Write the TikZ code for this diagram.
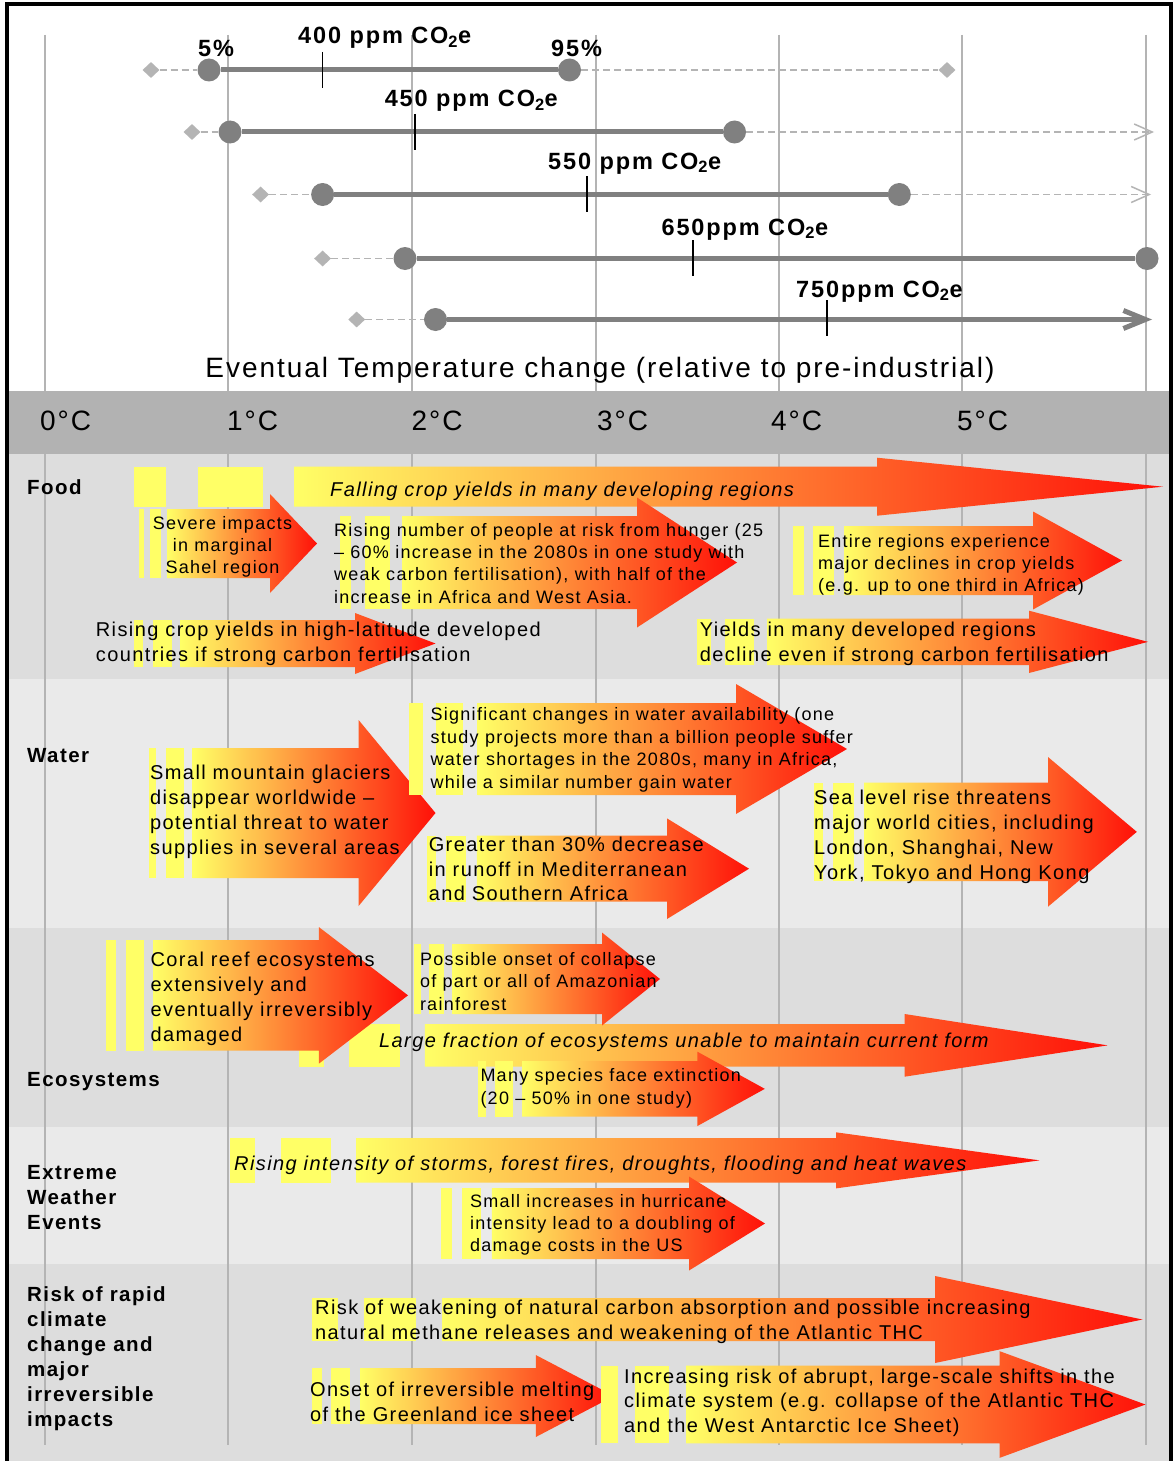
\documentclass[tikz,border=0pt]{standalone}
\usepackage{fontspec}
\setmainfont[LetterSpace=7]{Liberation Sans}
\usetikzlibrary{shapes.geometric,arrows.meta}
\definecolor{grid-grey}{HTML}{B4B4B4}
\definecolor{band-grey}{HTML}{B2B2B2}
\definecolor{row-dark}{HTML}{DDDDDD}
\definecolor{row-light}{HTML}{EAEAEA}
\definecolor{range-grey}{HTML}{808080}
\definecolor{tail-grey}{HTML}{B4B4B4}
\definecolor{arrow-yellow}{HTML}{FFFF66}
\definecolor{arrow-orange}{HTML}{FF9F40}
\definecolor{arrow-red}{HTML}{FF1008}
\newcommand{\pxfont}[2]{\fontsize{#1}{#2}\selectfont}
% block arrow: start x, head base x, tip x, top y, bottom y, head overhang
\newcommand{\impactarrow}[6]{%
  \shade[left color=arrow-yellow, middle color=arrow-orange, right color=arrow-red]
    (#1,#4) -- (#2,#4) -- (#2,{#4-#6}) -- (#3,{(#4+#5)/2}) -- (#2,{#5+#6}) -- (#2,#5) -- (#1,#5) -- cycle;}
\newcommand{\leadbar}[4]{\fill[arrow-yellow] (#1,#3) rectangle (#2,#4);}

\begin{document}
\begin{tikzpicture}[x=1pt, y=-1pt,
    stabdot/.style={circle, fill=range-grey, inner sep=0pt, minimum size=23pt},
    tailmark/.style={diamond, fill=tail-grey, inner sep=0pt, minimum width=17pt, minimum height=16pt},
    spanline/.style={range-grey, line width=5pt},
    tailline/.style={tail-grey, line width=1.5pt, dash pattern=on 7pt off 4pt},
    tickmark/.style={black, line width=1.2pt},
    ppm/.style={anchor=base west, inner sep=0pt, font=\bfseries\pxfont{23.5}{27}\addfontfeature{LetterSpace=8}},
    degree/.style={anchor=base west, inner sep=0pt, font=\pxfont{28}{32}},
    rowlabel/.style={anchor=base west, inner sep=0pt, align=left, font=\bfseries\pxfont{20.5}{25}},
    impactbig/.style={anchor=base west, inner sep=0pt, align=left, font=\pxfont{20}{25}},
    impactsmall/.style={anchor=base west, inner sep=0pt, align=left, font=\pxfont{18}{22.4}}]
  \useasboundingbox (0,0) rectangle (1174,1461);
  \fill[white] (0,0) rectangle (1174,1461);

  % rows
  \fill[row-dark] (8,454) rectangle (1170,679);
  \fill[row-light] (8,679) rectangle (1170,928);
  \fill[row-dark] (8,928) rectangle (1170,1127);
  \fill[row-light] (8,1127) rectangle (1170,1264);
  \fill[row-dark] (8,1264) rectangle (1170,1461);
  \foreach \x in {44.5,228,412,596,779,962,1146}
    \draw[grid-grey, line width=2pt] (\x,35) -- (\x,1445);
  \fill[band-grey] (8,391) rectangle (1170,454);
  \draw[line width=4pt] (6.5,1461) -- (6.5,4) -- (1171,4) -- (1171,1461);

  % degree scale
  \foreach \t/\x in {0/40,1/227,2/411.4,3/597,4/771,5/957}
    \node[degree] (deg\t) at (\x,430) {\t°C};

  % stabilisation levels
  \node[tailmark] (min400) at (151,70) {};
  \node[stabdot] (lo400) at (209,70) {};
  \node[stabdot] (hi400) at (569.5,70) {};
  \node[tailmark] (max400) at (947,70) {};
  \draw[tailline] (min400) -- (lo400);
  \draw[tailline] (hi400) -- (max400);
  \draw[spanline] (lo400) -- (hi400);
  \draw[tickmark] (322.6,52) -- (322.6,88);
  \node[ppm] (p5) at (198,57) {5\%};
  \node[ppm] (p95) at (551,57) {95\%};
  \node[ppm] (l400) at (298,44) {400 ppm CO\textsubscript{2}e};

  \node[tailmark] (min450) at (192,132) {};
  \node[stabdot] (lo450) at (230,132) {};
  \node[stabdot] (hi450) at (734.5,132) {};
  \coordinate (end450) at (1154,132);
  \draw[tailline] (min450) -- (lo450);
  \draw[tailline, -{Straight Barb[length=18pt,width=16pt]}] (hi450) -- (end450);
  \draw[spanline] (lo450) -- (hi450);
  \draw[tickmark] (415,114) -- (415,150);
  \node[ppm] (l450) at (384.6,107) {450 ppm CO\textsubscript{2}e};

  \node[tailmark] (min550) at (260.6,194.5) {};
  \node[stabdot] (lo550) at (322.6,194.5) {};
  \node[stabdot] (hi550) at (899.3,194.5) {};
  \coordinate (end550) at (1151,194.5);
  \draw[tailline] (min550) -- (lo550);
  \draw[tailline, -{Straight Barb[length=18pt,width=16pt]}] (hi550) -- (end550);
  \draw[spanline] (lo550) -- (hi550);
  \draw[tickmark] (587,176) -- (587,212);
  \node[ppm] (l550) at (548,169) {550 ppm CO\textsubscript{2}e};

  \node[tailmark] (min650) at (322.6,258.5) {};
  \node[stabdot] (lo650) at (405,258.5) {};
  \node[stabdot] (hi650) at (1147,258.5) {};
  \draw[tailline] (min650) -- (lo650);
  \draw[spanline] (lo650) -- (hi650);
  \draw[tickmark] (693,240) -- (693,276);
  \node[ppm] (l650) at (661.4,235) {650ppm CO\textsubscript{2}e};

  \node[tailmark] (min750) at (356.7,319.5) {};
  \node[stabdot] (lo750) at (435.5,319.5) {};
  \coordinate (end750) at (1152,319.5);
  \draw[tailline] (min750) -- (lo750);
  \draw[spanline, -{Straight Barb[length=22pt,width=18pt]}] (lo750) -- (end750);
  \draw[tickmark] (827,300) -- (827,336);
  \node[ppm] (l750) at (796,297) {750ppm CO\textsubscript{2}e};

  \node[anchor=base, inner sep=0pt, font=\pxfont{28}{32}] (axis) at (600,377)
    {Eventual Temperature change (relative to pre-industrial)};

  % food
  \leadbar{133.6}{165.7}{466.7}{506.7}
  \leadbar{198}{262.5}{466.7}{506.7}
  \impactarrow{294}{877}{1163}{466.7}{506.7}{9}
  \leadbar{139}{144}{509}{578}
  \leadbar{150}{161}{509}{578}
  \impactarrow{167}{270}{317}{509}{578}{15}
  \leadbar{340}{351}{516}{609}
  \leadbar{365}{390}{516}{609}
  \impactarrow{402}{637}{737}{516}{609}{18.5}
  \leadbar{793}{803.5}{526}{595}
  \leadbar{813}{834}{526}{595}
  \impactarrow{844}{1033}{1122}{526}{595}{14.5}
  \leadbar{133.5}{143}{620}{667}
  \leadbar{152.7}{171.5}{620}{667}
  \impactarrow{180.6}{355}{435.5}{620}{667}{7}
  \leadbar{696.7}{710.7}{618.7}{665}
  \leadbar{725}{753.5}{618.7}{665}
  \impactarrow{767}{1029}{1148}{618.7}{665}{8}

  % water
  \leadbar{148.5}{156}{748}{878}
  \leadbar{165.7}{183.7}{748}{878}
  \impactarrow{192.5}{358.6}{435.5}{748}{878}{28}
  \leadbar{408.7}{422.5}{703}{795}
  \leadbar{436}{463}{703}{795}
  \impactarrow{477.6}{736}{847}{703}{795}{19}
  \leadbar{426.7}{436}{835.7}{901.7}
  \leadbar{446}{466}{835.7}{901.7}
  \impactarrow{476.8}{667}{749}{835.7}{901.7}{17.3}
  \leadbar{813.7}{823}{782.7}{881}
  \leadbar{833}{853.5}{782.7}{881}
  \impactarrow{864}{1048}{1136.8}{782.7}{881}{25.7}

  % ecosystems
  \leadbar{299}{323.8}{1024}{1066.7}
  \leadbar{349}{400}{1024}{1066.7}
  \impactarrow{424.8}{904.6}{1107.7}{1024}{1066.7}{10}
  \leadbar{106.4}{116}{940}{1050.7}
  \leadbar{125.5}{144}{940}{1050.7}
  \impactarrow{153}{318.8}{408}{940}{1050.7}{13}
  \leadbar{414}{421}{944}{1014}
  \leadbar{429.4}{444}{944}{1014}
  \impactarrow{452.7}{602}{660}{944}{1014}{11.5}
  \leadbar{477.6}{486}{1061}{1116.7}
  \leadbar{495}{512.8}{1061}{1116.7}
  \impactarrow{522}{697.4}{764.8}{1061}{1116.7}{9.3}

  % extreme weather
  \leadbar{230}{254.5}{1138}{1182.7}
  \leadbar{280.5}{331}{1138}{1182.7}
  \impactarrow{356}{836}{1039.5}{1138}{1182.7}{5.7}
  \leadbar{441}{451.6}{1188}{1259}
  \leadbar{462}{481.4}{1188}{1259}
  \impactarrow{491.8}{689}{765}{1188}{1259}{11.5}

  % rapid change
  \leadbar{312}{337.5}{1298}{1341}
  \leadbar{364}{416}{1298}{1341}
  \impactarrow{442}{935}{1142.5}{1298}{1341}{22}
  \leadbar{312}{321.5}{1368}{1424}
  \leadbar{331.4}{350}{1368}{1424}
  \impactarrow{360}{535.8}{614}{1368}{1424}{13}
  \leadbar{600.8}{617.9}{1365.7}{1443.3}
  \leadbar{635}{669}{1365.7}{1443.3}
  \impactarrow{686}{999.7}{1145.5}{1365.7}{1443.3}{14.5}

  % row labels (multi-line nodes sit on their last line)
  \node[rowlabel] (food) at (27,494) {Food};
  \node[rowlabel] (water) at (27,762) {Water};
  \node[rowlabel] (eco) at (27,1086) {Ecosystems};
  \node[rowlabel] (extreme) at (27,1229.3) {Extreme\\Weather\\Events};
  \node[rowlabel] (risk) at (27,1426.7) {Risk of rapid\\climate\\change and\\major\\irreversible\\impacts};

  % impact texts
  \node[impactbig, font=\itshape\pxfont{20}{25}] (falling) at (330,496)
    {Falling crop yields in many developing regions};
  \node[impactsmall, anchor=base, align=center, font=\pxfont{18}{22}] (sahel) at (222.5,573)
    {Severe impacts\\in marginal\\Sahel region};
  \node[impactsmall] (hunger) at (334,603.2)
    {Rising number of people at risk from hunger (25\\-- 60\% increase in the 2080s in one study with\\weak carbon fertilisation), with half of the\\increase in Africa and West Asia.};
  \node[impactsmall, font=\pxfont{18}{22}] (entire) at (818,591)
    {Entire regions experience\\major declines in crop yields\\(e.g. up to one third in Africa)};
  \node[impactbig] (highlat) at (95.7,661.7)
    {Rising crop yields in high-latitude developed\\countries if strong carbon fertilisation};
  \node[impactbig] (developed) at (699.7,661.7)
    {Yields in many developed regions\\decline even if strong carbon fertilisation};

  \node[impactbig] (glaciers) at (150,854)
    {Small mountain glaciers\\disappear worldwide --\\potential threat to water\\supplies in several areas};
  \node[impactsmall, font=\pxfont{18}{22.5}] (wateravail) at (430.5,788.2)
    {Significant changes in water availability (one\\study projects more than a billion people suffer\\water shortages in the 2080s, many in Africa,\\while a similar number gain water};
  \node[impactbig, font=\pxfont{20}{24.5}] (runoff) at (428.6,900.7)
    {Greater than 30\% decrease\\in runoff in Mediterranean\\and Southern Africa};
  \node[impactbig] (sealevel) at (814,879)
    {Sea level rise threatens\\major world cities, including\\London, Shanghai, New\\York, Tokyo and Hong Kong};

  \node[impactbig] (coral) at (150.4,1041.7)
    {Coral reef ecosystems\\extensively and\\eventually irreversibly\\damaged};
  \node[impactsmall, font=\pxfont{18}{22.5}] (amazon) at (419.8,1010)
    {Possible onset of collapse\\of part or all of Amazonian\\rainforest};
  \node[impactbig, font=\itshape\pxfont{20}{25}] (fraction) at (379,1047.7)
    {Large fraction of ecosystems unable to maintain current form};
  \node[impactsmall, font=\pxfont{18}{22.5}] (species) at (480.3,1104.2)
    {Many species face extinction\\(20 -- 50\% in one study)};

  \node[impactbig, font=\itshape\pxfont{20}{25}] (storms) at (234,1170)
    {Rising intensity of storms, forest fires, droughts, flooding and heat waves};
  \node[impactsmall, font=\pxfont{18}{22}] (hurricane) at (470,1251)
    {Small increases in hurricane\\intensity lead to a doubling of\\damage costs in the US};

  \node[impactbig] (carbon) at (315,1339)
    {Risk of weakening of natural carbon absorption and possible increasing\\natural methane releases and weakening of the Atlantic THC};
  \node[impactbig] (greenland) at (310,1421)
    {Onset of irreversible melting\\of the Greenland ice sheet};
  \node[impactbig, font=\pxfont{20}{24.5}] (abrupt) at (624,1432.3)
    {Increasing risk of abrupt, large-scale shifts in the\\climate system (e.g. collapse of the Atlantic THC\\and the West Antarctic Ice Sheet)};
\end{tikzpicture}
\end{document}
